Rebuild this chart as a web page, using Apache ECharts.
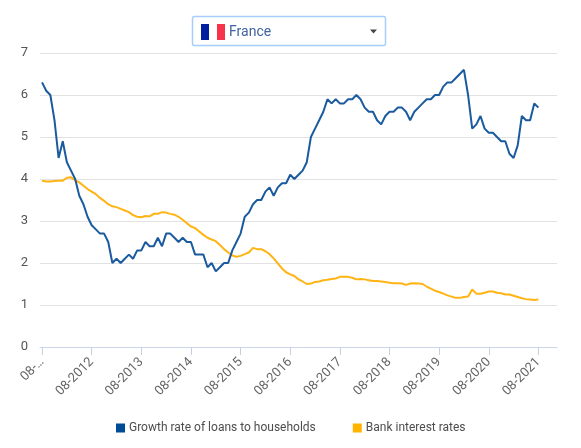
<!DOCTYPE html>
<html><head><meta charset="utf-8">
<style>html,body{margin:0;padding:0;background:#fff}#c{width:581px;height:448px}</style>
<script src="https://cdn.jsdelivr.net/npm/echarts@6/dist/echarts.min.js"></script>
</head><body><div id="c"></div>
<script>
const tickLabels = {0:'08-…',12:'08-2012',24:'08-2013',36:'08-2014',48:'08-2015',60:'08-2016',72:'08-2017',84:'08-2018',96:'08-2019',108:'08-2020',120:'08-2021'};
const loanGrowth = [6.3,6.1,6.0,5.4,4.5,4.9,4.4,4.2,4.0,3.6,3.4,3.1,
2.9,2.8,2.7,2.7,2.5,2.0,2.1,2.0,2.1,2.2,2.1,2.3,
2.3,2.5,2.4,2.4,2.6,2.4,2.7,2.7,2.6,2.5,2.6,2.5,
2.5,2.2,2.2,2.2,1.9,2.0,1.8,1.9,2.0,2.0,2.3,2.5,
2.7,3.1,3.2,3.4,3.5,3.5,3.7,3.8,3.6,3.8,3.9,3.9,
4.1,4.0,4.1,4.2,4.4,5.0,5.2,5.4,5.6,5.9,5.8,5.9,
5.8,5.8,5.9,5.9,6.0,5.9,5.7,5.6,5.6,5.4,5.3,5.5,
5.6,5.6,5.7,5.7,5.6,5.4,5.6,5.7,5.8,5.9,5.9,6.0,
6.0,6.2,6.3,6.3,6.4,6.5,6.6,6.0,5.2,5.3,5.5,5.2,
5.1,5.1,5.0,4.9,4.9,4.6,4.5,4.8,5.5,5.4,5.4,5.8,5.7];
const bankRates = [3.96,3.94,3.94,3.95,3.96,3.96,4.03,4.04,3.97,3.92,3.84,3.76,
3.70,3.64,3.55,3.48,3.40,3.35,3.33,3.29,3.25,3.21,3.14,3.10,
3.09,3.12,3.11,3.17,3.17,3.21,3.20,3.17,3.15,3.10,3.03,2.95,
2.87,2.83,2.75,2.67,2.60,2.56,2.52,2.43,2.33,2.25,2.18,2.15,
2.17,2.21,2.25,2.36,2.33,2.33,2.28,2.21,2.11,1.99,1.87,1.78,
1.73,1.69,1.61,1.56,1.50,1.51,1.55,1.56,1.59,1.60,1.62,1.63,
1.67,1.67,1.67,1.65,1.61,1.62,1.61,1.59,1.57,1.57,1.56,1.55,
1.53,1.52,1.52,1.51,1.48,1.51,1.52,1.51,1.50,1.44,1.39,1.34,
1.31,1.27,1.23,1.20,1.17,1.17,1.19,1.20,1.37,1.27,1.27,1.29,
1.32,1.32,1.29,1.28,1.25,1.25,1.22,1.19,1.16,1.14,1.13,1.12,1.13];
const trailingSlots = 4;
const categories = Array.from({length: loanGrowth.length + trailingSlots}, (_, i) => tickLabels[i] || '');
const seriesNames = ['Growth rate of loans to households','Bank interest rates'];
const selected = 'France';

const chart = echarts.init(document.getElementById('c'), null, {renderer:'canvas'});
const font = 'Roboto, sans-serif';
chart.setOption({
  animation:false,
  backgroundColor:'#fff',
  textStyle:{fontFamily:font},
  grid:{left:40,top:53,width:517,height:294,containLabel:false},
  legend:{
    left:111, top:417, itemWidth:9, itemHeight:9, itemGap:37, icon:'rect',
    textStyle:{fontSize:12,color:'#4d4d4d',fontFamily:font,padding:[0,0,0,-1]},
    data:[{name:seriesNames[0],itemStyle:{color:'#004b98'}},{name:seriesNames[1],itemStyle:{color:'#ffb400'}}]
  },
  xAxis:{
    type:'category', data:categories, boundaryGap:true,
    axisLine:{show:true,lineStyle:{color:'#ccd6eb',width:1}},
    axisTick:{show:true,alignWithLabel:true,interval:11,length:8,lineStyle:{color:'#c4d0e6',width:1}},
    axisLabel:{interval:11,rotate:45,fontSize:13,color:'#666',fontFamily:font,margin:13,hideOverlap:false}
  },
  yAxis:{
    type:'value', min:0, max:7, interval:1,
    axisLine:{show:false}, axisTick:{show:false},
    axisLabel:{fontSize:13,color:'#555',fontFamily:font,margin:12},
    splitLine:{lineStyle:{color:'#e2e2e2',width:1}}
  },
  series:[
    {name:seriesNames[0],type:'line',data:loanGrowth,showSymbol:false,symbol:'none',lineStyle:{color:'#1a5a9e',width:2},itemStyle:{color:'#004b98'},z:3},
    {name:seriesNames[1],type:'line',data:bankRates,showSymbol:false,symbol:'none',lineStyle:{color:'#ffb414',width:2},itemStyle:{color:'#ffb400'},z:2}
  ],
  graphic:[
    {type:'rect',shape:{x:192.5,y:16.5,width:193,height:29,r:2},style:{fill:'#fff',stroke:'#a6cdfb',lineWidth:1.5}},
    {type:'rect',shape:{x:201,y:24,width:8,height:16},style:{fill:'#00209f'}},
    {type:'rect',shape:{x:217,y:24,width:8,height:16},style:{fill:'#f8324b'}},
    {type:'text',x:229,y:32,style:{text:selected,fontSize:14,fontFamily:font,fill:'#41639f',verticalAlign:'middle'}},
    {type:'polygon',shape:{points:[[370,29.5],[377,29.5],[373.5,33.5]]},style:{fill:'#444'}}
  ]
});
</script></body></html>
